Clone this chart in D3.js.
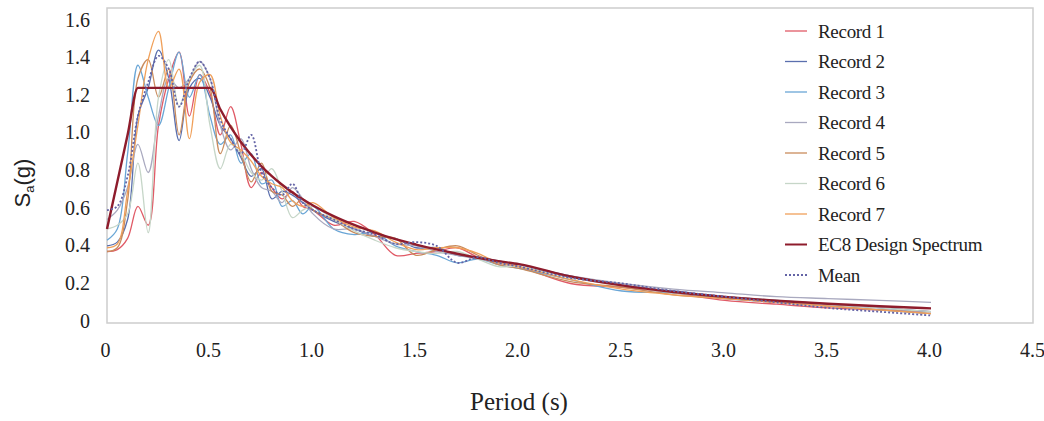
<!DOCTYPE html>
<html>
<head>
<meta charset="utf-8">
<script src="https://cdn.jsdelivr.net/npm/d3@7"></script>
<style>
  html, body { margin: 0; padding: 0; background: #fff; }
  svg { display: block; }
</style>
</head>
<body>
<svg id="chart" width="1044" height="421"></svg>
<script>
// Periods (s) at which each spectrum is sampled
const periods = [0, 0.05, 0.1, 0.15, 0.2, 0.25, 0.3, 0.35, 0.4, 0.45, 0.5, 0.55, 0.6, 0.65, 0.7, 0.75, 0.8, 0.85, 0.9, 0.95, 1.0,
  1.1, 1.2, 1.3, 1.4, 1.5, 1.6, 1.7, 1.8, 1.9, 2.0, 2.25, 2.5, 2.75, 3.0, 3.25, 3.5, 3.75, 4.0];

// Spectral accelerations Sa (g)
const record1 = [0.38, 0.39, 0.45, 0.62, 0.52, 1.05, 1.30, 1.44, 1.10, 1.32, 1.22, 1.00, 1.15, 0.95, 0.72, 0.80, 0.72, 0.66, 0.70, 0.62, 0.60,
  0.52, 0.54, 0.47, 0.36, 0.37, 0.38, 0.40, 0.35, 0.32, 0.30, 0.21, 0.19, 0.16, 0.12, 0.10, 0.08, 0.07, 0.06];
const record2 = [0.41, 0.43, 0.55, 1.10, 1.25, 1.45, 1.30, 0.97, 1.25, 1.30, 1.20, 1.05, 0.98, 0.88, 0.78, 0.82, 0.66, 0.70, 0.68, 0.64, 0.60,
  0.54, 0.50, 0.46, 0.45, 0.40, 0.40, 0.36, 0.35, 0.33, 0.31, 0.25, 0.20, 0.17, 0.14, 0.12, 0.10, 0.08, 0.06];
const record3 = [0.44, 0.50, 0.90, 1.37, 1.20, 1.05, 1.25, 1.44, 1.20, 1.32, 1.10, 0.95, 1.00, 0.85, 0.90, 0.74, 0.76, 0.62, 0.65, 0.58, 0.62,
  0.50, 0.47, 0.48, 0.41, 0.38, 0.36, 0.32, 0.34, 0.31, 0.29, 0.23, 0.17, 0.16, 0.13, 0.11, 0.09, 0.07, 0.05];
const record4 = [0.55, 0.60, 0.72, 0.95, 0.80, 1.10, 1.30, 1.25, 1.30, 1.39, 1.30, 1.05, 0.92, 0.98, 0.82, 0.72, 0.70, 0.64, 0.72, 0.66, 0.58,
  0.50, 0.50, 0.46, 0.42, 0.41, 0.38, 0.36, 0.34, 0.32, 0.30, 0.25, 0.21, 0.18, 0.16, 0.14, 0.13, 0.12, 0.11];
const record5 = [0.38, 0.40, 0.65, 1.30, 1.40, 1.20, 1.35, 1.00, 1.28, 1.35, 1.25, 0.90, 1.05, 0.90, 0.75, 0.85, 0.70, 0.68, 0.62, 0.66, 0.60,
  0.55, 0.48, 0.46, 0.45, 0.36, 0.39, 0.41, 0.36, 0.31, 0.29, 0.22, 0.19, 0.15, 0.13, 0.11, 0.09, 0.07, 0.05];
const record6 = [0.50, 0.52, 0.58, 0.85, 0.48, 1.20, 1.40, 1.15, 1.30, 1.37, 1.05, 0.82, 0.95, 0.90, 0.80, 0.76, 0.82, 0.70, 0.56, 0.60, 0.62,
  0.55, 0.49, 0.44, 0.40, 0.38, 0.37, 0.38, 0.34, 0.30, 0.30, 0.24, 0.20, 0.16, 0.14, 0.12, 0.10, 0.08, 0.06];
const record7 = [0.40, 0.42, 0.70, 1.05, 1.40, 1.55, 1.25, 1.35, 0.98, 1.28, 1.32, 1.10, 0.96, 0.92, 0.86, 0.78, 0.74, 0.72, 0.65, 0.62, 0.64,
  0.56, 0.51, 0.49, 0.43, 0.39, 0.40, 0.40, 0.37, 0.32, 0.30, 0.23, 0.18, 0.15, 0.13, 0.11, 0.09, 0.07, 0.05];
const ec8 = [0.50, 0.75, 1.00, 1.25, 1.25, 1.25, 1.25, 1.25, 1.25, 1.25, 1.25, 1.136, 1.042, 0.962, 0.893, 0.833, 0.781, 0.735, 0.694, 0.658, 0.625,
  0.568, 0.521, 0.481, 0.446, 0.417, 0.391, 0.368, 0.347, 0.329, 0.313, 0.247, 0.200, 0.165, 0.139, 0.118, 0.102, 0.089, 0.078];
const mean = [0.60, 0.62, 0.78, 1.10, 1.28, 1.42, 1.35, 1.15, 1.30, 1.39, 1.30, 1.08, 0.98, 0.90, 1.00, 0.80, 0.72, 0.68, 0.74, 0.64, 0.60,
  0.55, 0.50, 0.47, 0.42, 0.43, 0.41, 0.32, 0.35, 0.32, 0.30, 0.24, 0.21, 0.17, 0.14, 0.11, 0.08, 0.06, 0.04];

const seriesNames = ["Record 1", "Record 2", "Record 3", "Record 4", "Record 5", "Record 6", "Record 7", "EC8 Design Spectrum", "Mean"];
const xTicks = [0, 0.5, 1.0, 1.5, 2.0, 2.5, 3.0, 3.5, 4.0, 4.5];
const yTicks = [0, 0.2, 0.4, 0.6, 0.8, 1.0, 1.2, 1.4, 1.6];

const series = [
  { name: seriesNames[0], values: record1, color: "#e05a66", width: 1.3 },
  { name: seriesNames[1], values: record2, color: "#5a6fae", width: 1.3 },
  { name: seriesNames[2], values: record3, color: "#6aa6d6", width: 1.3 },
  { name: seriesNames[3], values: record4, color: "#a9a9bf", width: 1.3 },
  { name: seriesNames[4], values: record5, color: "#c98b5c", width: 1.3 },
  { name: seriesNames[5], values: record6, color: "#c6d6c8", width: 1.3 },
  { name: seriesNames[6], values: record7, color: "#f0a05a", width: 1.3 },
  { name: seriesNames[7], values: ec8, color: "#8e1c2c", width: 2.4, code: true },
  { name: seriesNames[8], values: mean, color: "#6464a6", width: 1.8, dash: "2,2" }
];

const svg = d3.select("#chart");
const plot = { left: 107, top: 8, right: 1033, bottom: 323 };

const x = d3.scaleLinear().domain([0, 4.5]).range([plot.left, plot.left + 4.5 * 206]);
const y = d3.scaleLinear().domain([0, 1.6]).range([plot.bottom, 22]);

const fmt = v => (v === 0 ? "0" : d3.format(".1f")(v));
const serif = "'Liberation Serif', 'Times New Roman', serif";

// Plot frame
svg.append("rect")
  .attr("x", plot.left).attr("y", plot.top)
  .attr("width", plot.right - plot.left).attr("height", plot.bottom - plot.top)
  .attr("fill", "none").attr("stroke", "#cdcdcd").attr("stroke-width", 1.5);

// Spectra: recorded spectra with a centripetal spline, the code spectrum monotone
const lineRecord = d3.line()
  .x((d, i) => x(periods[i]))
  .y(d => y(d))
  .curve(d3.curveCatmullRom.alpha(0.5));
const lineCode = d3.line()
  .x((d, i) => x(periods[i]))
  .y(d => y(d))
  .curve(d3.curveMonotoneX);

svg.append("g").selectAll("path")
  .data(series)
  .join("path")
  .attr("d", d => (d.code ? lineCode : lineRecord)(d.values))
  .attr("fill", "none")
  .attr("stroke", d => d.color)
  .attr("stroke-width", d => d.width)
  .attr("stroke-dasharray", d => d.dash || null)
  .attr("stroke-linejoin", "round");

// Axes (labels only, no tick marks)
const xAxis = svg.append("g")
  .attr("transform", `translate(0,${plot.bottom})`)
  .call(d3.axisBottom(x).tickValues(xTicks).tickFormat(fmt).tickSize(0).tickPadding(20));
xAxis.select(".domain").remove();
xAxis.selectAll("text")
  .attr("font-family", serif)
  .attr("font-size", 20).attr("fill", "#222")
  .attr("dx", -2);

const yAxis = svg.append("g")
  .attr("transform", `translate(${plot.left},0)`)
  .call(d3.axisLeft(y).tickValues(yTicks).tickFormat(fmt).tickSize(0).tickPadding(17));
yAxis.select(".domain").remove();
yAxis.selectAll("text")
  .attr("font-family", serif)
  .attr("font-size", 20).attr("fill", "#222")
  .attr("dy", "0.2em");

// Axis titles
svg.append("text")
  .attr("x", 519).attr("y", 410)
  .attr("text-anchor", "middle")
  .attr("font-family", serif)
  .attr("font-size", 25).attr("fill", "#222")
  .text("Period (s)");

const yTitle = svg.append("text")
  .attr("transform", "translate(30,183) rotate(-90)")
  .attr("text-anchor", "middle")
  .attr("font-family", "'Liberation Sans', Arial, sans-serif")
  .attr("font-size", 22).attr("fill", "#222");
yTitle.append("tspan").text("S");
yTitle.append("tspan").attr("font-size", 13).attr("dy", 4).text("a");
yTitle.append("tspan").attr("dy", -4).text("(g)");

// Legend
const legend = svg.append("g").selectAll("g")
  .data(series)
  .join("g")
  .attr("transform", (d, i) => `translate(785,${31 + i * 30.5})`);
legend.append("line")
  .attr("x1", 0).attr("x2", 22)
  .attr("stroke", d => d.color)
  .attr("stroke-width", d => Math.min(d.width, 2))
  .attr("stroke-dasharray", d => d.dash || null);
legend.append("text")
  .attr("x", 33).attr("dy", "0.35em")
  .attr("font-family", serif)
  .attr("font-size", 19).attr("letter-spacing", -0.3).attr("fill", "#222")
  .text(d => d.name);
</script>
</body>
</html>
